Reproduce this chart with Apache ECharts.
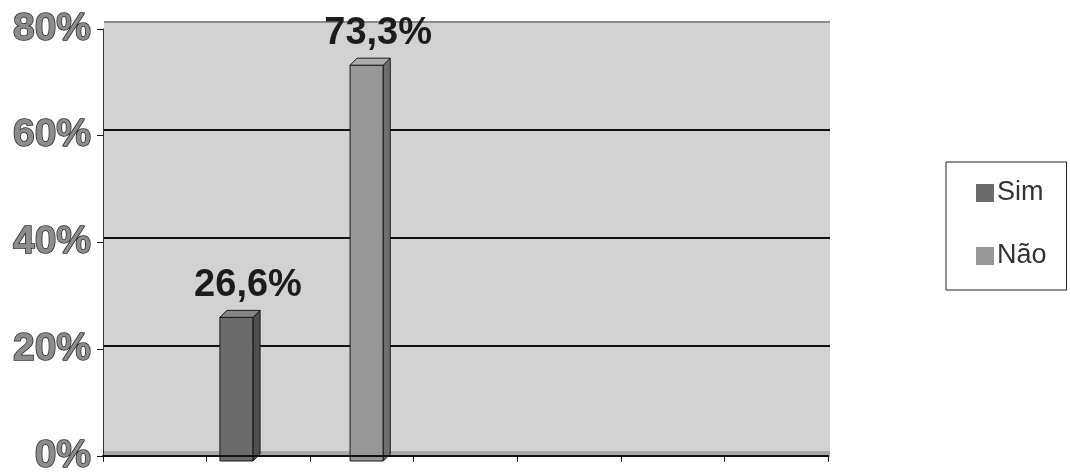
<!DOCTYPE html>
<html>
<head>
<meta charset="utf-8">
<script src="https://cdn.jsdelivr.net/npm/echarts@6/dist/echarts.min.js"></script>
<style>
  html, body { margin: 0; padding: 0; background: #fff; }
  #chart { width: 1070px; height: 476px; }
</style>
</head>
<body>
<div id="chart"></div>
<script>
// dados
const seriesNames = ["Sim", "Não"];
const seriesValues = [26.6, 73.3];
// 7 posições no eixo x (só duas têm barra)
const slots = ["", "Sim", "Não", "", "", "", ""];
const yTicks = [0, 20, 40, 60, 80];

const colors = ["#6b6b6b", "#979797"];
const sideColors = ["#4e4e4e", "#6e6e6e"];
const topColors = ["#858585", "#acacac"];
const shift = [-0.155, 0.1]; // deslocamento dentro da categoria
const depth = 7;

function fmt(v) {
  return v.toFixed(1).replace(".", ",") + "%";
}

function renderBar(params, api) {
  const i = params.seriesIndex;
  const top = api.coord([api.value(0), api.value(1)]);
  const base = api.coord([api.value(0), 0]);
  const band = api.size([1, 0])[0];
  const w = band * 0.32;
  const cx = top[0] + band * shift[i];
  const x0 = cx - w / 2, x1 = cx + w / 2;
  const yT = top[1], yB = base[1];
  const d = depth;
  const line = { stroke: "#1a1a1a", lineWidth: 1 };
  return {
    type: "group",
    children: [
      {
        type: "rect",
        shape: { x: x0 - d, y: yT + d, width: w, height: yB - yT },
        style: Object.assign({ fill: colors[i] }, line),
      },
      {
        type: "polygon",
        shape: { points: [[x1 - d, yT + d], [x1, yT], [x1, yB], [x1 - d, yB + d]] },
        style: Object.assign({ fill: sideColors[i] }, line),
      },
      {
        type: "polygon",
        shape: { points: [[x0 - d, yT + d], [x0, yT], [x1, yT], [x1 - d, yT + d]] },
        style: Object.assign({ fill: topColors[i] }, line),
      },
      {
        type: "text",
        style: {
          x: (x0 - d + x1) / 2 + 8,
          y: yT - 6,
          text: fmt(api.value(1)),
          align: "center",
          verticalAlign: "bottom",
          fontFamily: "Liberation Sans, Arial, sans-serif",
          fontWeight: "bold",
          fontSize: 38,
          fill: "#1c1c1c",
        },
      },
    ],
  };
}

const chart = echarts.init(document.getElementById("chart"));

const option = {
  animation: false,
  legend: {
    orient: "vertical",
    left: 946,
    top: 162,
    padding: [17, 20, 20, 30],
    itemGap: 35,
    itemWidth: 18,
    itemHeight: 18,
    icon: "rect",
    borderColor: "#222",
    borderWidth: 1,
    textStyle: {
      fontFamily: "Liberation Sans, Arial, sans-serif",
      fontSize: 27,
      lineHeight: 28,
      color: "#333",
      padding: [0, 0, 0, -2],
    },
    data: seriesNames,
  },
  grid: [
    // parede do fundo
    { left: 104, right: 240, top: 22, bottom: 22, show: true, backgroundColor: "#d2d2d2", borderWidth: 0 },
    // plano da frente (eixos)
    { left: 103, right: 242, top: 29, bottom: 15 },
  ],
  xAxis: [
    {
      gridIndex: 0,
      type: "category",
      data: slots,
      z: 1,
      offset: 3,
      // piso
      axisLine: { show: true, lineStyle: { color: "#a9a9a9", width: 6, cap: "butt" } },
      axisTick: { show: false },
      axisLabel: { show: false },
    },
    {
      gridIndex: 1,
      type: "category",
      data: slots,
      z: 6,
      axisLine: { show: true, lineStyle: { color: "#111", width: 2 } },
      axisTick: { show: true, length: 6, lineStyle: { color: "#111" } },
      axisLabel: { show: false },
    },
  ],
  yAxis: [
    {
      gridIndex: 0,
      type: "value",
      min: yTicks[0],
      max: yTicks[yTicks.length - 1],
      interval: 20,
      axisLine: { show: false },
      axisTick: { show: false },
      axisLabel: { show: false },
      splitLine: {
        show: true,
        lineStyle: { color: ["#a9a9a9", "#111", "#111", "#111", "#8a8a8a"], width: 2 },
      },
    },
    {
      gridIndex: 1,
      type: "value",
      min: yTicks[0],
      max: yTicks[yTicks.length - 1],
      interval: 20,
      z: 6,
      axisLine: { show: true, lineStyle: { color: "#333", width: 1 } },
      axisTick: { show: true, length: 6, lineStyle: { color: "#111" } },
      splitLine: { show: false },
      axisLabel: {
        margin: 12,
        formatter: "{value}%",
        fontFamily: "Liberation Sans, Arial, sans-serif",
        fontWeight: "bold",
        fontSize: 39,
        color: "#8c8c8c",
        textBorderColor: "#2a2a2a",
        textBorderWidth: 1.5,
      },
    },
  ],
  series: seriesNames.map((name, i) => ({
    name: name,
    type: "custom",
    xAxisIndex: 0,
    yAxisIndex: 0,
    z: 5,
    itemStyle: { color: colors[i] },
    renderItem: renderBar,
    data: [[slots.indexOf(name), seriesValues[i]]],
  })),
};

chart.setOption(option);
</script>
</body>
</html>
